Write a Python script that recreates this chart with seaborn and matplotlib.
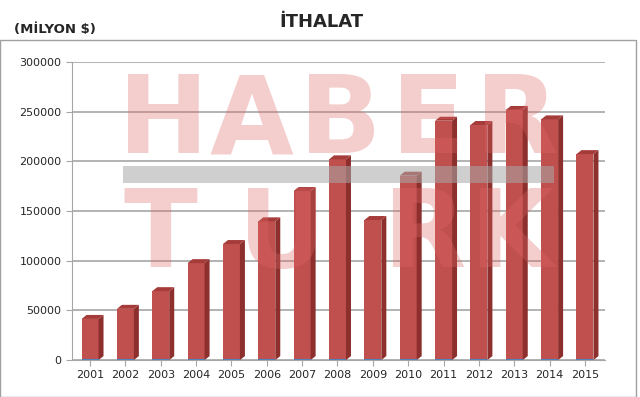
import seaborn as sns
import matplotlib.pyplot as plt
import pandas as pd
from matplotlib.patches import Polygon, Rectangle

years = ["2001", "2002", "2003", "2004", "2005", "2006", "2007", "2008",
         "2009", "2010", "2011", "2012", "2013", "2014", "2015"]
imports = [41399, 51554, 69340, 97540, 116774, 139576, 170063, 201964,
           140928, 185544, 240842, 236545, 251661, 242177, 207234]
yticks = [0, 50000, 100000, 150000, 200000, 250000, 300000]

df = pd.DataFrame({"yil": years, "ithalat": imports})

sns.set_style("white")
plt.rcParams["font.family"] = ["DejaVu Sans"]

fig = plt.figure(figsize=(6.4, 3.97), dpi=100)
ax = fig.add_axes([0.1125, 0.093, 0.833, 0.751])

sns.barplot(data=df, x="yil", y="ithalat", color="#c0504d", width=0.48,
            saturation=1, ax=ax, zorder=3, edgecolor="none", linewidth=0)

ax.set_ylim(0, 300000)
ax.set_xlim(-0.51, len(years) - 0.43)
ax.set_yticks(yticks)
ax.set_yticklabels([str(t) for t in yticks])
ax.yaxis.grid(True, color="#a6a6a6", lw=1.2)
ax.set_axisbelow(True)
for s in ["top", "right"]:
    ax.spines[s].set_visible(False)
ax.spines["left"].set_color("#a6a6a6")
ax.spines["bottom"].set_color("#a6a6a6")
ax.tick_params(axis="both", labelsize=8, colors="#a6a6a6", labelcolor="#262626",
               length=4, direction="out", left=True, bottom=True)
ax.set_xlabel("")
ax.set_ylabel("")

# fake 3d: darker side face and top for each bar (pixel offsets)
dx, dy = 5, 4
inv = ax.transData.inverted()
for p in list(ax.patches):
    x0, w, h = p.get_x(), p.get_width(), p.get_height()
    tr = ax.transData
    b = tr.transform((x0 + w, 0))
    c = tr.transform((x0 + w, h))
    d = tr.transform((x0, h))
    side = [b, c, c + (dx, dy), b + (dx, dy)]
    top = [d, c, c + (dx, dy), d + (dx, dy)]
    ax.add_patch(Polygon([inv.transform(q) for q in side], closed=True,
                         facecolor="#8c2f2d", edgecolor="none", zorder=3))
    ax.add_patch(Polygon([inv.transform(q) for q in top], closed=True,
                         facecolor="#a63c3a", edgecolor="none", zorder=3))
    ax.plot([x0, x0 + w], [0, 0], color="#4f81bd", lw=1.5, zorder=4,
            solid_capstyle="butt")

# header and frame
fig.text(0.503, 0.945, "İTHALAT", ha="center", va="center", fontsize=13,
         fontweight="bold", family=["DejaVu Sans"])
fig.text(0.022, 0.925, "(MİLYON $)", ha="left", va="center", fontsize=9.5,
         fontweight="bold", family=["DejaVu Sans"])
fig.add_artist(Rectangle((0.0, 0.0), 0.994, 0.899, transform=fig.transFigure,
                         fill=False, edgecolor="#a0a0a0", lw=1))

# watermark
wm = dict(ha="center", va="center", fontsize=78, fontweight="bold",
          color="#e06868", alpha=0.33, zorder=10,
          family=["DejaVu Sans"])
for ch, x in zip("HABER", [163, 251, 340, 428, 517]):
    fig.text(x / 640, 1 - 123 / 397, ch, **wm)
for ch, x in zip("TURK", [161, 282, 425, 512]):
    fig.text(x / 640, 1 - 237 / 397, ch, **wm)
fig.add_artist(Rectangle((123 / 640, 1 - 183 / 397), 431 / 640, 17 / 397,
                         transform=fig.transFigure, facecolor="#a8a8a8",
                         edgecolor="none", alpha=0.55, zorder=10))

fig.savefig("out.png", dpi=100)
